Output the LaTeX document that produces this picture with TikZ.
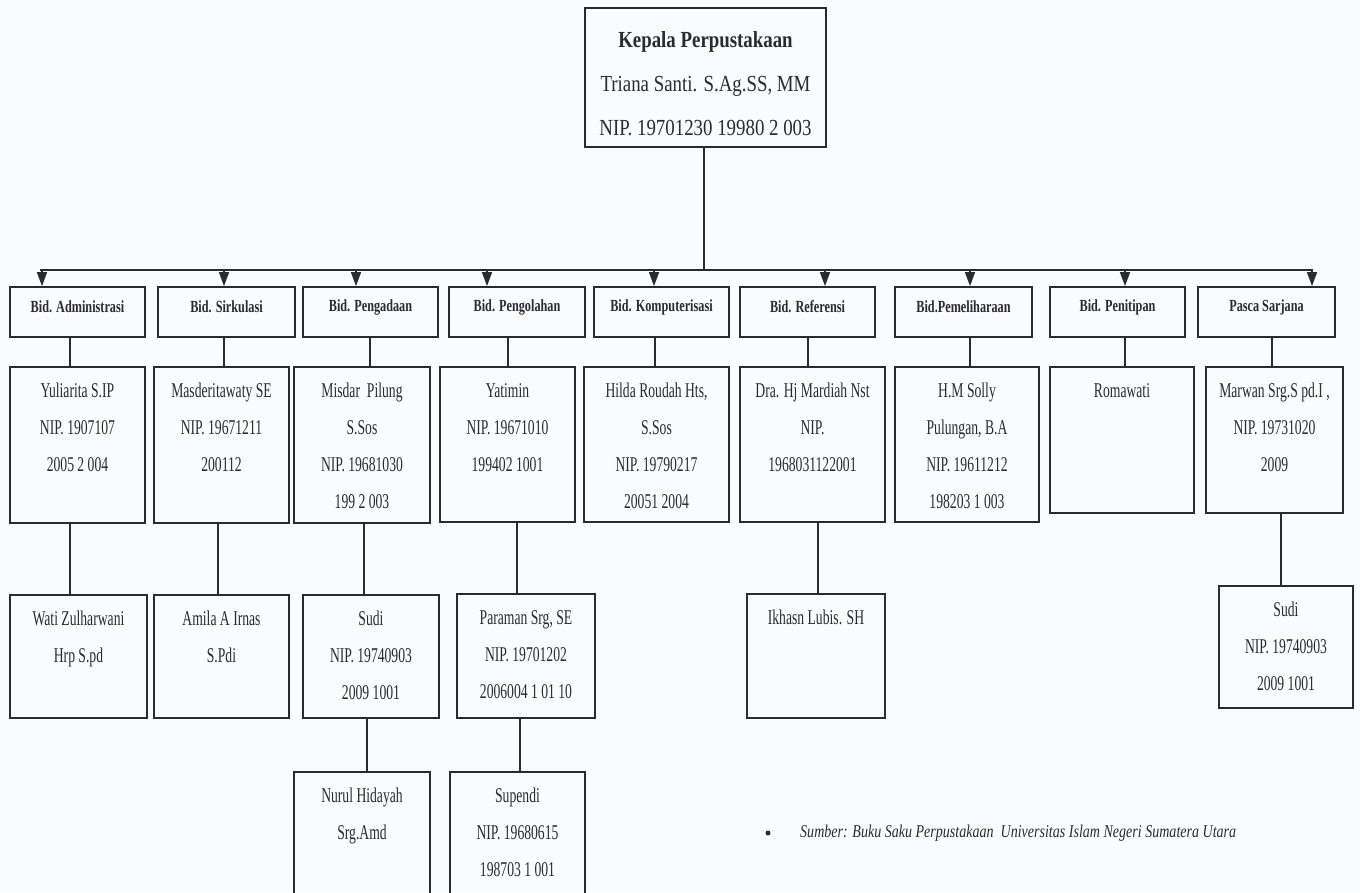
\documentclass[tikz,border=0pt]{standalone}
\usepackage{fontspec}
\setmainfont{Liberation Serif}
\newfontfamily\topfont[FakeStretch=0.82]{Liberation Serif}
\newfontfamily\bodyfont[FakeStretch=0.65]{Liberation Serif}
\newfontfamily\bidfont[FakeStretch=0.72]{Liberation Serif}
\newfontfamily\srcfont[FakeStretch=0.78]{Liberation Serif}
\usetikzlibrary{fit,arrows.meta}
\definecolor{ink}{HTML}{2B2B2B}
\definecolor{paper}{HTML}{FAFBFD}
\tikzset{
  box/.style={draw=ink, line width=1.8pt, inner sep=0pt, rectangle},
  ptext/.style={text=ink, align=center, inner sep=0pt, font=\bodyfont\fontsize{21}{37}\selectfont},
  ttext/.style={text=ink, align=center, inner sep=0pt, font=\topfont\fontsize{23}{44}\selectfont},
  btext/.style={text=ink, inner sep=0pt, font=\bidfont\bfseries\fontsize{17}{20}\selectfont},
  stext/.style={text=ink, inner sep=0pt, font=\srcfont\itshape\fontsize{18}{20}\selectfont},
  conn/.style={draw=ink, line width=1.5pt},
  arr/.style={conn, -{Triangle[length=14pt,width=10pt]}},
}
\newcommand\orgbox[6]{\node[box, fit={(#2,#3) (#4,#5)}] (#1) {};
  \node[ptext, anchor=north] (#1-t) at ([yshift=-17pt]#1.north) {#6};}
\newcommand\bidbox[6]{\node[box, fit={(#2,#3) (#4,#5)}] (#1) {};
  \node[btext] (#1-t) at ([yshift=5pt]#1.center) {#6};}
\begin{document}
\begin{tikzpicture}[x=1pt,y=-1pt]
\fill[paper] (0,0) rectangle (1360,892);
\useasboundingbox (0,0) rectangle (1360,892);
\clip (0,0) rectangle (1360,892);

% top
\node[box, fit={(585,8) (826,147)}] (top) {};
\node[ttext, anchor=north] (top-t) at ([yshift=-24pt]top.north) {\textbf{Kepala Perpustakaan}\\Triana Santi. S.Ag.SS, MM\\NIP. 19701230 19980 2 003};

% bid row
\bidbox{adm}{10}{287}{145}{337}{Bid. Administrasi}
\bidbox{sir}{158}{287}{295}{337}{Bid. Sirkulasi}
\bidbox{pgd}{303}{287}{438}{337}{Bid. Pengadaan}
\bidbox{pgl}{449}{287}{585}{337}{Bid. Pengolahan}
\bidbox{kom}{594}{287}{729}{337}{Bid. Komputerisasi}
\bidbox{ref}{740}{287}{875}{337}{Bid. Referensi}
\bidbox{pml}{895}{287}{1032}{337}{Bid.Pemeliharaan}
\bidbox{pnt}{1050}{287}{1185}{337}{Bid. Penitipan}
\bidbox{pas}{1198}{287}{1335}{337}{Pasca Sarjana}

% row 2
\orgbox{yul}{10}{367}{145}{523}{Yuliarita S.IP\\NIP. 1907107\\2005 2 004}
\orgbox{mas}{154}{367}{289}{523}{Masderitawaty SE\\NIP. 19671211\\200112}
\orgbox{mis}{294}{367}{430}{523}{Misdar~~Pilung\\S.Sos\\NIP. 19681030\\199 2 003}
\orgbox{yat}{440}{367}{575}{522}{Yatimin\\NIP. 19671010\\199402 1001}
\orgbox{hil}{584}{367}{729}{522}{Hilda Roudah Hts,\\S.Sos\\NIP. 19790217\\20051 2004}
\orgbox{dra}{740}{367}{885}{522}{Dra. Hj Mardiah Nst\\NIP.\\1968031122001}
\orgbox{hms}{895}{367}{1039}{522}{H.M Solly\\Pulungan, B.A\\NIP. 19611212\\198203 1 003}
\orgbox{rom}{1050}{367}{1194}{513}{Romawati}
\orgbox{mar}{1206}{367}{1343}{513}{Marwan Srg.S pd.I ,\\NIP. 19731020\\2009}

% row 3
\orgbox{wat}{10}{595}{147}{718}{Wati Zulharwani\\Hrp S.pd}
\orgbox{ami}{154}{595}{289}{718}{Amila A Irnas\\S.Pdi}
\orgbox{sud}{303}{595}{439}{718}{Sudi\\NIP. 19740903\\2009 1001}
\orgbox{par}{457}{594}{595}{718}{Paraman Srg, SE\\NIP. 19701202\\2006004 1 01 10}
\orgbox{ikh}{747}{594}{885}{718}{Ikhasn Lubis. SH}
\orgbox{sdb}{1219}{586}{1353}{708}{Sudi\\NIP. 19740903\\2009 1001}

% row 4
\orgbox{nur}{294}{772}{430}{905}{Nurul Hidayah\\Srg.Amd}
\orgbox{sup}{450}{772}{585}{905}{Supendi\\NIP. 19680615\\198703 1 001}

% bus
\coordinate (bus) at (704,270);
\coordinate (busL) at (40,270);
\coordinate (busR) at (1313,270);
\draw[conn] (top.south -| bus) -- (bus);
\draw[conn] (busL) -- (busR);
\foreach \n/\x in {adm/42,sir/224,pgd/356,pgl/487,kom/654,ref/825,pml/970,pnt/1125,pas/1312}
  \draw[arr] (bus -| \x,0) -- (\n.north -| \x,0);

% bid -> row 2
\foreach \a/\b/\x in {adm/yul/70,sir/mas/224,pgd/mis/370,pgl/yat/508,kom/hil/655,ref/dra/808,pml/hms/970,pnt/rom/1125,pas/mar/1272}
  \draw[conn] (\a.south -| \x,0) -- (\b.north -| \x,0);

% row 2 -> row 3
\foreach \a/\b/\x in {yul/wat/70,mas/ami/218,mis/sud/364,yat/par/517,dra/ikh/818,mar/sdb/1281}
  \draw[conn] (\a.south -| \x,0) -- (\b.north -| \x,0);

% row 3 -> row 4
\foreach \a/\b/\x in {sud/nur/367,par/sup/520}
  \draw[conn] (\a.south -| \x,0) -- (\b.north -| \x,0);

% source
\node[circle, fill=ink, inner sep=0pt, minimum size=5pt] (bul) at (768,833) {};
\node[stext, anchor=west] (src) at (800,833) {Sumber: Buku Saku Perpustakaan~~Universitas Islam Negeri Sumatera Utara};
\end{tikzpicture}
\end{document}
